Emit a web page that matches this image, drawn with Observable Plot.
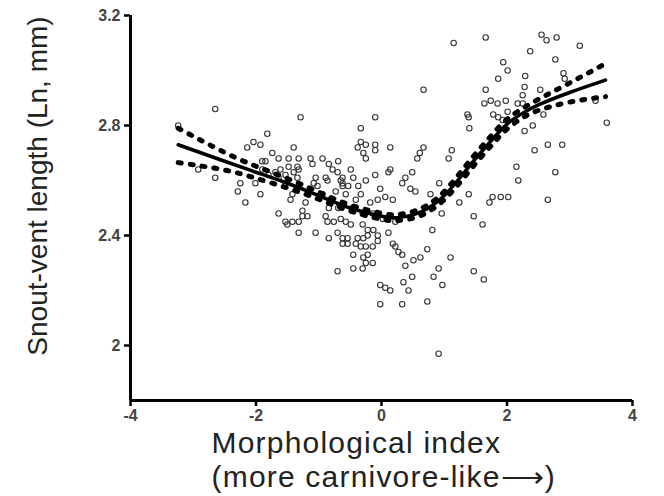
<!DOCTYPE html>
<html><head><meta charset="utf-8">
<script src="https://cdn.jsdelivr.net/npm/d3@7"></script>
<script src="https://cdn.jsdelivr.net/npm/@observablehq/plot@0.6"></script>
<style>body{margin:0;background:#fff;} #chart svg{display:block;}</style>
</head><body><div id="chart"></div>
<script>
const xDomain = [-4, 4];
const yDomain = [1.8, 3.2];
const xTicks = [-4, -2, 0, 2, 4];
const yTicks = [2, 2.4, 2.8, 3.2];
const yTitle = "Snout-vent length (Ln, mm)";
const xTitle = "Morphological index\n(more carnivore-like\u27F6)";

// scatter: morphological index (x) and ln snout-vent length (y)
const morphIndex = [
  // upper right
  1.15,1.66,2.55,2.63,2.79,3.16,2.37,2.77,1.94,2.01,2.29,1.86,2.90,2.92,0.67,1.66,2.53,2.28,2.25,1.64,1.74,1.85,1.98,2.17,2.25,2.01,1.37,1.39,1.78,1.86,1.93,1.40,2.28,2.41,2.58,3.41,3.59,
  // right middle
  0.67,0.61,0.57,1.12,1.07,2.65,2.88,2.44,2.15,2.77,2.18,0.92,0.78,1.39,1.24,1.72,1.77,1.90,2.02,2.65,1.47,1.61,0.96,0.81,0.49,0.46,0.54,
  // right lower
  0.11,0.18,0.22,0.27,0.33,0.73,0.51,0.62,1.10,0.38,0.91,1.47,1.63,0.49,0.83,0.97,0.35,-0.02,0.06,0.14,0.43,-0.02,0.33,0.73,0.91,
  // centre
  -0.10,-0.33,-0.33,-0.38,-0.25,-0.10,-0.10,0.14,-0.29,-0.25,-0.49,-0.45,-0.25,-0.10,0.14,0.11,0.38,0.33,-0.62,-0.53,-0.37,-0.02,-0.57,-0.33,-0.41,0.06,0.18,-0.18,-0.06,-0.46,-0.30,-0.14,-0.57,0.02,0.22,-0.65,-0.49,-0.30,-0.22,-0.13,-0.62,-0.62,
  // centre lower
  -1.05,-1.32,-0.84,-0.70,-0.62,-0.54,-0.22,-0.06,-0.38,-0.29,-0.41,-0.62,-0.54,-0.33,-0.25,-0.14,-0.06,-0.45,-0.29,-0.22,-0.25,-0.14,-0.70,-0.45,-0.30,
  // left centre
  -1.13,-0.94,-1.10,-0.84,-0.69,-1.32,-0.78,-0.70,-1.05,-0.89,-0.86,-1.08,-1.02,-0.65,-0.94,-0.73,-0.81,-1.21,-1.26,-0.84,-0.69,-0.89,-0.76,-1.26,-1.18,-0.86,-1.32,-1.45,-1.50,-1.32,
  // left
  -2.65,-1.29,-3.24,-1.82,-1.40,-2.14,-2.04,-1.93,-1.74,-1.64,-1.48,-1.90,-1.85,-1.34,-1.48,-1.61,-1.90,-1.80,-1.69,-1.53,-1.40,-1.34,-1.64,-1.53,-1.42,-2.17,-1.64,-1.53,-1.42,-2.01,-1.93,-2.29,-2.25,-2.65,-2.92
];
const snoutVent = [
  3.10,3.12,3.13,3.11,3.12,3.09,3.07,3.04,3.03,3.00,2.98,2.97,2.99,2.97,2.93,2.93,2.93,2.94,2.91,2.88,2.89,2.88,2.89,2.88,2.88,2.85,2.84,2.83,2.84,2.83,2.82,2.79,2.78,2.80,2.84,2.89,2.81,
  2.72,2.70,2.68,2.71,2.68,2.73,2.73,2.71,2.65,2.63,2.60,2.59,2.55,2.55,2.52,2.52,2.54,2.54,2.54,2.53,2.47,2.44,2.48,2.42,2.63,2.57,2.56,
  2.41,2.37,2.36,2.34,2.33,2.35,2.31,2.32,2.32,2.29,2.28,2.27,2.24,2.25,2.25,2.22,2.23,2.22,2.21,2.20,2.20,2.15,2.15,2.16,1.97,
  2.83,2.79,2.74,2.72,2.73,2.73,2.71,2.72,2.70,2.68,2.64,2.61,2.60,2.62,2.64,2.63,2.61,2.59,2.58,2.58,2.58,2.57,2.55,2.55,2.53,2.54,2.53,2.52,2.53,2.50,2.48,2.48,2.45,2.46,2.45,2.46,2.44,2.44,2.42,2.42,2.61,2.59,
  2.41,2.41,2.39,2.41,2.39,2.39,2.40,2.40,2.39,2.39,2.37,2.37,2.37,2.36,2.36,2.36,2.38,2.33,2.32,2.33,2.30,2.30,2.27,2.28,2.28,
  2.68,2.68,2.66,2.66,2.67,2.64,2.64,2.63,2.61,2.61,2.60,2.59,2.58,2.60,2.55,2.56,2.53,2.52,2.49,2.50,2.50,2.47,2.45,2.47,2.47,2.45,2.68,2.53,2.44,2.45,
  2.86,2.83,2.80,2.77,2.72,2.72,2.74,2.73,2.70,2.68,2.68,2.67,2.67,2.65,2.65,2.64,2.64,2.62,2.63,2.62,2.63,2.61,2.61,2.59,2.55,2.52,2.48,2.45,2.45,2.59,2.55,2.56,2.59,2.61,2.64
];

// fitted curve with its confidence band (same x positions)
const fitX =      [-3.24,-2.5,-2,-1.5,-1,-0.5,0,0.25,0.5,0.75,1,1.25,1.5,1.75,2,2.25,2.5,3,3.57];
const fitY =      [2.73,2.67,2.63,2.59,2.545,2.50,2.47,2.465,2.475,2.50,2.545,2.61,2.68,2.745,2.805,2.845,2.875,2.92,2.965];
const bandUpper = [2.79,2.702,2.652,2.607,2.558,2.511,2.481,2.476,2.487,2.513,2.56,2.627,2.698,2.763,2.823,2.862,2.895,2.955,3.025];
const bandLower = [2.665,2.638,2.608,2.573,2.532,2.489,2.459,2.454,2.463,2.487,2.53,2.593,2.662,2.727,2.787,2.828,2.855,2.885,2.905];

const n = Math.min(morphIndex.length, snoutVent.length);
const points = d3.range(n).map(i => ({x: morphIndex[i], y: snoutVent[i]}));
const fit = fitX.map((x, i) => ({x, y: fitY[i]}));
const upper = fitX.map((x, i) => ({x, y: bandUpper[i]}));
const lower = fitX.map((x, i) => ({x, y: bandLower[i]}));

const chart = Plot.plot({
  width: 664,
  height: 496,
  marginLeft: 130,
  marginRight: 32,
  marginTop: 15,
  marginBottom: 96,
  x: {domain: xDomain},
  y: {domain: yDomain},
  style: {fontFamily: "'Liberation Sans', Arial, sans-serif", background: "white", color: "black"},
  marks: [
    Plot.dot(points, {x: "x", y: "y", r: 2.7, stroke: "#333", strokeWidth: 1.1, fill: "none"}),
    Plot.line(upper, {x: "x", y: "y", curve: "natural", stroke: "black", strokeWidth: 5, strokeDasharray: "3,9"}),
    Plot.line(lower, {x: "x", y: "y", curve: "natural", stroke: "black", strokeWidth: 5, strokeDasharray: "3,9"}),
    Plot.line(fit, {x: "x", y: "y", curve: "natural", stroke: "black", strokeWidth: 3.5}),
    Plot.ruleX([xDomain[0]], {y1: yDomain[0], y2: yDomain[1], stroke: "black", strokeWidth: 3}),
    Plot.ruleY([yDomain[0]], {x1: xDomain[0], x2: xDomain[1], stroke: "black", strokeWidth: 3}),
    Plot.axisY({ticks: yTicks, tickSize: 6, tickPadding: 4, tickFormat: d => String(d), fontSize: 16, fontWeight: "bold", fill: "#444", stroke: "black", strokeWidth: 2.5, label: null}),
    Plot.axisX({ticks: xTicks, tickSize: 6, tickPadding: 3, tickFormat: d => String(d), fontSize: 16, fontWeight: "bold", fill: "#444", stroke: "black", strokeWidth: 2.5, label: null}),
    Plot.text([yTitle], {frameAnchor: "left", textAnchor: "middle", dx: -92, dy: -22, rotate: -90, fontSize: 28, fill: "#222"}),
    Plot.text([xTitle], {frameAnchor: "bottom-left", textAnchor: "start", dx: 81, dy: 29, lineAnchor: "top", lineHeight: 1.12, fontSize: 30, fill: "#222"})
  ]
});
d3.select(chart).selectAll("text")
  .filter(function() { return this.textContent.includes("Morphological"); })
  .style("letter-spacing", "1.2px");
document.getElementById("chart").appendChild(chart);
</script>
</body></html>
